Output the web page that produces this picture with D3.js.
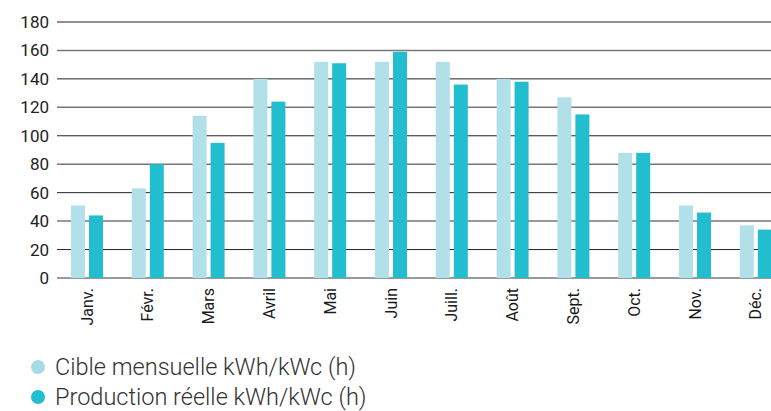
<!DOCTYPE html>
<html><head><meta charset="utf-8">
<script src="https://cdn.jsdelivr.net/npm/d3@7"></script>
<style>
html,body{margin:0;padding:0;background:#fff;}
svg{display:block;}
</style></head>
<body>
<svg id="chart" width="771" height="411"></svg>
<script>
const months = ["Janv.","Févr.","Mars","Avril","Mai","Juin","Juill.","Août","Sept.","Oct.","Nov.","Déc."];
const cible = [51,63,114,140,152,152,152,140,127,88,51,37];
const production = [44,80,95,124,151,159,136,138,115,88,46,34];
const seriesNames = ["Cible mensuelle kWh/kWc (h)","Production réelle kWh/kWc (h)"];
const seriesColors = ["#b1e0e8","#22bdcf"];
const legendColors = ["#a6dae5","#22bdcf"];
const yTicks = [0,20,40,60,80,100,120,140,160,180];

const svg = d3.select("#chart");
const y = d3.scaleLinear().domain([0,180]).range([278,22]);
const x0 = d3.scaleBand().domain(months).range([56.6,786.2]).padding(0);
const x1 = d3.scaleBand().domain([0,1]).range([0,32]).paddingInner(4/18).paddingOuter(0);
const groupOffset = (x0.bandwidth()-32)/2;

// y axis labels
const yAxis = d3.axisLeft(y).tickValues(yTicks).tickSize(0).tickPadding(8);
const gy = svg.append("g").attr("transform","translate(57,0)").call(yAxis);
gy.select(".domain").remove();
gy.selectAll("text").attr("font-family","Roboto, sans-serif").attr("font-size","17px").attr("fill","#222");

// grid lines
svg.append("g").selectAll("line").data(yTicks).join("line")
  .attr("x1",57).attr("x2",771)
  .attr("y1",d=>y(d)).attr("y2",d=>y(d))
  .attr("stroke",(d,i)=> i%2===0 ? "#777" : "#222")
  .attr("stroke-width",(d,i)=> i%2===0 ? 1.5 : 1);

// bars
const data = months.map((m,i)=>({m, v:[cible[i],production[i]]}));
const groups = svg.append("g").selectAll("g").data(data).join("g")
  .attr("transform",d=>`translate(${x0(d.m)+groupOffset},0)`);
groups.selectAll("rect").data(d=>d.v.map((v,k)=>({k,v}))).join("rect")
  .attr("x",d=>x1(d.k)).attr("width",x1.bandwidth())
  .attr("y",d=>y(d.v)).attr("height",d=>y(0)-y(d.v))
  .attr("fill",d=>seriesColors[d.k]);

// x labels
const xAxis = d3.axisBottom(x0).tickSize(0).tickPadding(0);
const gx = svg.append("g").attr("transform","translate(0,278)").call(xAxis);
gx.select(".domain").remove();
gx.selectAll("text")
  .attr("font-family","Roboto, sans-serif").attr("font-size","16px").attr("fill","#1a1a1a")
  .attr("text-anchor","end").attr("dy","0.35em")
  .attr("transform","translate(0,10) rotate(-90)")
  .attr("x",0).attr("y",0);

// legend
const leg = svg.append("g").selectAll("g").data(seriesNames).join("g")
  .attr("transform",(d,i)=>`translate(0,${367+i*30})`);
leg.append("circle").attr("cx",38).attr("cy",0).attr("r",7).attr("fill",(d,i)=>legendColors[i]);
leg.append("text").attr("x",55).attr("y",7.5)
  .attr("font-family","Roboto, sans-serif").attr("font-weight",300)
  .attr("font-size","23.5px").attr("fill","#333").text(d=>d);
</script>
</body></html>
